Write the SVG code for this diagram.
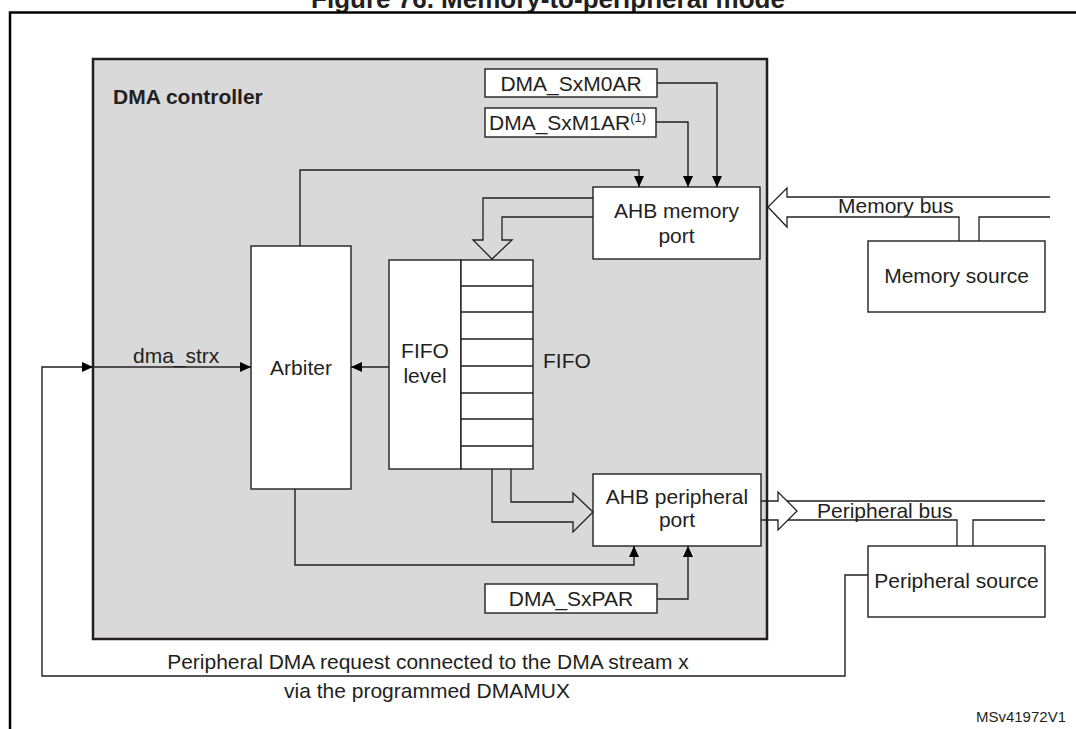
<svg xmlns="http://www.w3.org/2000/svg" width="1076" height="729" viewBox="0 0 1076 729">
<defs>
<marker id="ah" markerUnits="userSpaceOnUse" markerWidth="11" markerHeight="10" refX="11" refY="5" orient="auto">
<path d="M0,0 L11,5 L0,10 z" fill="#000"/>
</marker>
<style>
text{font-family:"Liberation Sans",Arial,sans-serif;font-size:21px;fill:#231f20}
.c{text-anchor:middle}
.box{fill:#fff;stroke:#231f20;stroke-width:1.4}
.ln{fill:none;stroke:#231f20;stroke-width:1.4}
.ar{fill:none;stroke:#231f20;stroke-width:1.4;marker-end:url(#ah)}
.bus{fill:none;stroke:#231f20;stroke-width:1.3;stroke-linejoin:miter}
</style>
</defs>
<rect width="1076" height="729" fill="#fff"/>
<text x="548" y="8" class="c" style="font-weight:bold;font-size:26px">Figure 76. Memory-to-peripheral mode</text>
<path d="M10,729 V12.5 H1076" fill="none" stroke="#000" stroke-width="2.5"/>

<g id="dma-controller">
<rect x="93" y="59" width="674" height="580" fill="#d9d9d9" stroke="#231f20" stroke-width="2.5"/>
<text x="113" y="104" style="font-weight:bold;font-size:21px">DMA controller</text>
</g>

<g id="m0ar"><rect class="box" x="485" y="69" width="172" height="28"/><text class="c" x="571" y="91">DMA_SxM0AR</text></g>
<g id="m1ar"><rect class="box" x="485" y="108" width="171" height="29"/><text x="489" y="130">DMA_SxM1AR<tspan dy="-8" style="font-size:13px">(1)</tspan></text></g>
<g id="mem-port"><rect class="box" x="593" y="187" width="167" height="72"/><text class="c" x="676.5" y="218">AHB memory</text><text class="c" x="676.5" y="243">port</text></g>
<g id="arbiter"><rect class="box" x="251" y="246" width="100" height="243"/><text class="c" x="301" y="375">Arbiter</text></g>
<g id="fifo-level"><rect class="box" x="389" y="260" width="72" height="209"/><text class="c" x="425" y="358">FIFO</text><text class="c" x="425" y="383">level</text></g>
<g id="fifo">
<rect class="box" x="461" y="260" width="72" height="209"/>
<path class="ln" d="M461,286H533M461,312H533M461,339H533M461,366H533M461,393H533M461,419H533M461,446H533"/>
<text x="543" y="368">FIFO</text>
</g>
<g id="periph-port"><rect class="box" x="593" y="474" width="168" height="72"/><text class="c" x="677" y="504">AHB peripheral</text><text class="c" x="677" y="527">port</text></g>
<g id="par"><rect class="box" x="485" y="584" width="172" height="29"/><text class="c" x="571" y="606">DMA_SxPAR</text></g>
<g id="mem-source"><rect class="box" x="868" y="241" width="177" height="71"/><text class="c" x="956.5" y="283">Memory source</text></g>
<g id="periph-source"><rect class="box" x="868" y="546" width="177" height="71"/><text class="c" x="956.5" y="588">Peripheral source</text></g>

<g id="connectors">
<path class="ar" d="M300,246 V170 H639 V187"/>
<path class="ar" d="M656,122 H688 V187"/>
<path class="ar" d="M657,83 H717 V187"/>
<path class="ar" d="M389,367 H351"/>
<path class="ar" d="M868,575 H845 V676 H42 V367 H93"/>
<path class="ar" d="M93,367 H251"/>
<path class="ar" d="M295,489 V565 H634 V546"/>
<path class="ar" d="M657,599 H688 V546"/>
<path class="bus" d="M593,198 H483 V240 H473 L492,259 L512,240 H502 V217 H593"/>
<path class="bus" d="M492,469 V522 H573 V532 L593,512 L573,493 V502 H511 V469"/>
<path class="bus" d="M1050,197 H787 V188 L768,207 L787,227 V217 H959 V241"/>
<path class="bus" d="M979,241 V217 H1050"/>
<path class="bus" d="M761,501 H778 V492 L797,511 L778,530 V520 H761"/>
<path class="bus" d="M787,501 H1045"/>
<path class="bus" d="M788,520 H957 V546"/>
<path class="bus" d="M973,546 V520 H1045"/>
<text x="838" y="213">Memory bus</text>
<text x="817" y="518">Peripheral bus</text>
<text x="133" y="363">dma_strx</text>
<text class="c" x="428" y="669">Peripheral DMA request connected to the DMA stream x</text>
<text class="c" x="427" y="698">via the programmed DMAMUX</text>
</g>
<text x="1066" y="722" style="font-size:15px;text-anchor:end">MSv41972V1</text>
</svg>
